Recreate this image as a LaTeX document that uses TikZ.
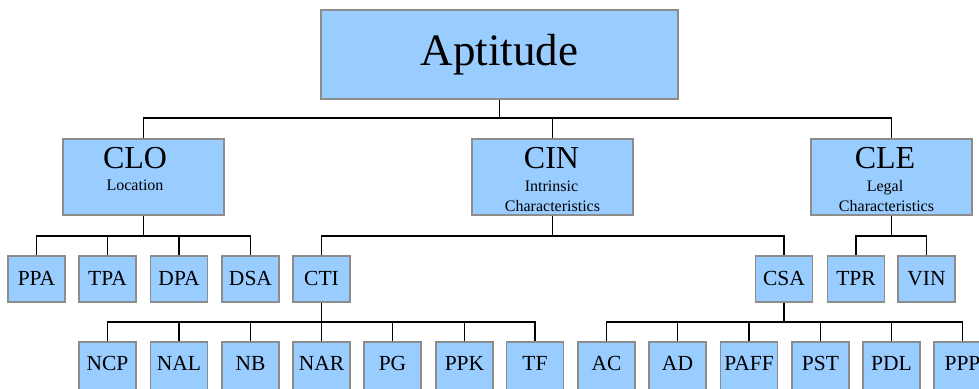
\documentclass[tikz,border=0pt]{standalone}
\usepackage{fontspec}
\setmainfont{Liberation Serif}
\definecolor{boxfill}{HTML}{99CCFF}
\definecolor{boxline}{HTML}{8C8C8C}
\begin{document}
\begin{tikzpicture}[x=1pt,y=-1pt,
  bigbox/.style={draw=boxline,line width=1.3pt,fill=boxfill,rectangle,inner sep=0pt,minimum width=161pt,minimum height=76pt},
  topbox/.style={draw=boxline,line width=1.3pt,fill=boxfill,rectangle,inner sep=0pt,minimum width=357pt,minimum height=89pt},
  leaf/.style={draw=boxline,line width=1.3pt,fill=boxfill,rectangle,inner sep=0pt,minimum width=57pt,minimum height=46pt,text depth=2pt,font=\fontsize{21.5}{24}\selectfont},
  lowleaf/.style={leaf,minimum height=48pt,text depth=4.5pt},
  bigtxt/.style={anchor=base,inner sep=0pt,font=\fontsize{32}{36}\selectfont},
  smalltxt/.style={anchor=base,inner sep=0pt,font=\fontsize{16}{18}\selectfont},
  conn/.style={draw=black,line width=1.1pt}]
\useasboundingbox (0,0) rectangle (979,388);
% boxes
\node[topbox] (apt) at (499.5,54.5) {};
\node[anchor=base,inner sep=0pt,font=\fontsize{45}{50}\selectfont] (apttxt) at (499.5,65) {Aptitude};
\node[bigbox] (clo) at (143.5,177) {};
\node[bigbox] (cin) at (552.5,177) {};
\node[bigbox] (cle) at (891.5,177) {};
\node[bigtxt] (clot) at (135,168) {CLO};
\node[smalltxt] (clos) at (135,190.7) {Location};
\node[bigtxt] (cint) at (551.5,168) {CIN};
\node[smalltxt] (cins1) at (551.5,191) {Intrinsic};
\node[smalltxt] (cins2) at (552.5,211.5) {Characteristics};
\node[bigtxt] (clet) at (885,168) {CLE};
\node[smalltxt] (cles1) at (885,191) {Legal};
\node[smalltxt] (cles2) at (886.5,211.5) {Characteristics};
% level 3
\node[leaf] (ppa) at (36.5,279) {PPA};
\node[leaf] (tpa) at (107.5,279) {TPA};
\node[leaf] (dpa) at (179,279) {DPA};
\node[leaf] (dsa) at (250.5,279) {DSA};
\node[leaf] (cti) at (321.5,279) {CTI};
\node[leaf] (csa) at (784,279) {CSA};
\node[leaf] (tpr) at (856,279) {TPR};
\node[leaf] (vin) at (926.5,279) {VIN};
% level 4
\node[lowleaf] (ncp) at (107.5,366) {NCP};
\node[lowleaf] (nal) at (179,366) {NAL};
\node[lowleaf] (nb) at (250.5,366) {NB};
\node[lowleaf] (nar) at (321.5,366) {NAR};
\node[lowleaf] (pg) at (392.5,366) {PG};
\node[lowleaf] (ppk) at (464.5,366) {PPK};
\node[lowleaf] (tf) at (535,366) {TF};
\node[lowleaf] (ac) at (606.5,366) {AC};
\node[lowleaf] (ad) at (677.5,366) {AD};
\node[lowleaf] (paff) at (749,366) {PAFF};
\node[lowleaf] (pst) at (820.5,366) {PST};
\node[lowleaf] (pdl) at (891.5,366) {PDL};
\node[lowleaf] (ppp) at (962.5,366) {PPP};
% bus coordinates
\coordinate (b1) at (0,118);
\coordinate (b2) at (0,236);
\coordinate (b3) at (0,322);
% level 1 -> 2
\draw[conn] (apt.south) -- (apt.south |- b1);
\draw[conn] (clo.north) -- (clo.north |- b1) -- (cle.north |- b1) -- (cle.north);
\draw[conn] (cin.north) -- (cin.north |- b1);
% CLO children
\draw[conn] (clo.south) -- (clo.south |- b2);
\draw[conn] (ppa.north) -- (ppa.north |- b2) -- (dsa.north |- b2) -- (dsa.north);
\foreach \n in {tpa,dpa} \draw[conn] (\n.north) -- (\n.north |- b2);
% CIN children
\draw[conn] (cin.south) -- (cin.south |- b2);
\draw[conn] (cti.north) -- (cti.north |- b2) -- (csa.north |- b2) -- (csa.north);
% CLE children
\draw[conn] (cle.south) -- (cle.south |- b2);
\draw[conn] (tpr.north) -- (tpr.north |- b2) -- (vin.north |- b2) -- (vin.north);
% CTI children
\draw[conn] (cti.south) -- (cti.south |- b3);
\draw[conn] (ncp.north) -- (ncp.north |- b3) -- (tf.north |- b3) -- (tf.north);
\foreach \n in {nal,nb,nar,pg,ppk} \draw[conn] (\n.north) -- (\n.north |- b3);
% CSA children
\draw[conn] (csa.south) -- (csa.south |- b3);
\draw[conn] (ac.north) -- (ac.north |- b3) -- (ppp.north |- b3) -- (ppp.north);
\foreach \n in {ad,paff,pst,pdl} \draw[conn] (\n.north) -- (\n.north |- b3);
\end{tikzpicture}
\end{document}
